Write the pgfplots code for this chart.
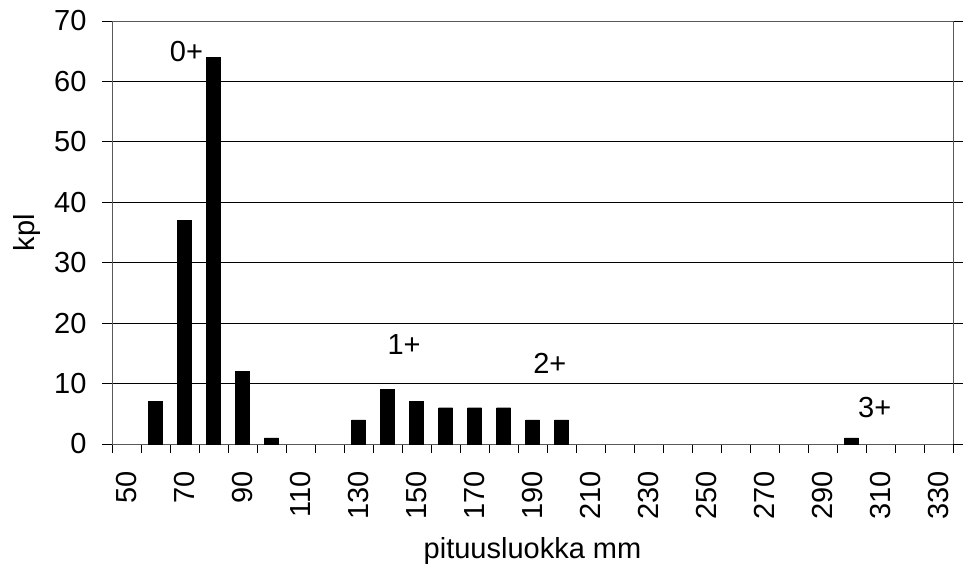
\documentclass[border=0pt]{standalone}
\usepackage{fontspec}
\setmainfont{Liberation Sans}
\usepackage{pgfplots}
\pgfplotsset{compat=1.18}
\begin{document}
\begin{tikzpicture}[font=\fontsize{29bp}{34bp}\selectfont]
\begin{axis}[
  scale only axis,
  width=841bp, height=423bp,
  xmin=-0.5, xmax=28.5,
  ymin=0, ymax=70,
  xtick={0,2,...,28},
  xticklabels={50,70,90,110,130,150,170,190,210,230,250,270,290,310,330},
  major x tick style={draw=none},
  minor xtick={-0.5,0.5,...,28.5},
  ytick={0,10,...,70},
  tick align=outside,
  major tick length=10bp,
  minor tick length=9bp,
  tick style={black, line width=0.8bp},
  xticklabel style={rotate=90, anchor=east, font=\fontsize{29bp}{34bp}\selectfont},
  yticklabel style={font=\fontsize{29bp}{34bp}\selectfont},
  xticklabel shift=14bp,
  yticklabel shift=12bp,
  /pgf/number format/assume math mode=true,
  ymajorgrids,
  grid style={black, line width=0.8bp},
  axis line style={gray!70!black, line width=0.8bp},
  axis x line*=bottom,
  xlabel={pituusluokka mm},
  ylabel={kpl},
  label style={font=\fontsize{29bp}{34bp}\selectfont},
  xlabel style={at={(axis description cs:0.5,-0.253)}, anchor=center},
  ylabel style={at={(axis description cs:-0.101,0.5)}, anchor=center},
  ybar,
  bar width=14bp,
  clip=false,
]
\addplot[fill=black, draw=black] coordinates {
(1,7) (2,37) (3,64) (4,12) (5,1) (8,4) (9,9) (10,7) (11,6) (12,6) (13,6) (14,4) (15,4) (25,1)};
\draw[gray!70!black, line width=0.8bp] (rel axis cs:0,1) -- (rel axis cs:1,1) -- (rel axis cs:1,0);
\node at (axis cs:2.07,65) {0+};
\node at (axis cs:9.57,16.5) {1+};
\node at (axis cs:14.6,13.4) {2+};
\node at (axis cs:25.8,6.0) {3+};
\coordinate (SW) at (rel axis cs:0,0);
\coordinate (NE) at (rel axis cs:1,1);
\end{axis}
\pgfresetboundingbox
\path ([xshift=-112bp,yshift=-124bp]SW) rectangle ([xshift=10bp,yshift=21bp]NE);
\end{tikzpicture}
\end{document}
